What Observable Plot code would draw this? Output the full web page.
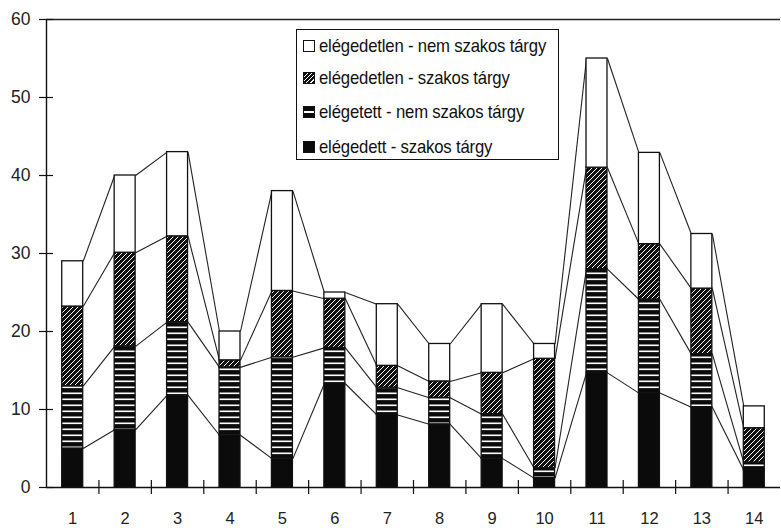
<!DOCTYPE html>
<html>
<head>
<meta charset="utf-8">
<script src="https://cdn.jsdelivr.net/npm/d3@7"></script>
<script src="https://cdn.jsdelivr.net/npm/@observablehq/plot@0.6"></script>
<style>
  html, body { margin: 0; padding: 0; background: #fff; }
  #wrap { position: relative; width: 781px; height: 528px; }
  #legend {
    position: absolute; left: 296px; top: 29px; width: 263px; height: 131px;
    border: 1.2px solid #111; background: #fff; box-sizing: border-box;
    font-family: "Liberation Sans", Arial, sans-serif;
    font-size: 19px; color: #111;
  }
  #legend .row { position: absolute; left: 6px; height: 22px; display: flex; align-items: center; white-space: nowrap; }
  #legend .sw { width: 12px; height: 12px; box-sizing: border-box; border: 1px solid #111; margin-right: 4px; flex: none; }
  #legend .lbl { display: inline-block; transform: scaleX(0.88); transform-origin: left center; letter-spacing: -0.2px; }
</style>
</head>
<body>
<div id="wrap"></div>
<script>
const categories = [1, 2, 3, 4, 5, 6, 7, 8, 9, 10, 11, 12, 13, 14];
const seriesNames = [
  "elégedett - szakos tárgy",
  "elégetett - nem szakos tárgy",
  "elégedetlen - szakos tárgy",
  "elégedetlen - nem szakos tárgy"
];
const elegedettSzakos     = [5.0, 7.4, 11.8, 6.7, 3.7, 13.3, 9.3, 8.1, 3.7, 1.2, 14.7, 12.1, 10.3, 2.2];
const elegedettNemSzakos  = [8.0, 10.7, 9.4, 8.7, 13.0, 4.6, 3.5, 3.4, 5.7, 1.3, 13.3, 12.0, 6.8, 1.0];
const elegedetlenSzakos   = [10.2, 12.0, 11.0, 0.9, 8.5, 6.3, 2.8, 2.1, 5.3, 14.0, 13.0, 7.1, 8.4, 4.4];
const elegedetlenNemSzakos= [5.8, 9.9, 10.8, 3.7, 12.8, 0.8, 7.9, 4.8, 8.8, 1.9, 14.0, 11.7, 7.0, 2.8];
const yTicks = [0, 10, 20, 30, 40, 50, 60];

const seriesValues = [elegedettSzakos, elegedettNemSzakos, elegedetlenSzakos, elegedetlenNemSzakos];
const fills = ["#0b0b0b", "url(#pStripe)", "url(#pHatch)", "#ffffff"];
const half = 0.2;

// stacked segments
const segments = [];
categories.forEach((c, i) => {
  let base = 0;
  seriesValues.forEach((vals, s) => {
    segments.push({cat: c, s, y1: base, y2: base + vals[i]});
    base += vals[i];
  });
});
// series lines
const links = [];
seriesValues.forEach((vals, s) => {
  for (let i = 0; i < categories.length - 1; i++) {
    const a = segments.find(d => d.cat === categories[i] && d.s === s);
    const b = segments.find(d => d.cat === categories[i + 1] && d.s === s);
    links.push({x1: a.cat + half, y1: a.y2, x2: b.cat - half, y2: b.y2});
  }
});
const between = categories.slice(0, -1).map(c => c + 0.5);

const marks = [
  Plot.link(links, {x1: "x1", y1: "y1", x2: "x2", y2: "y2", stroke: "#222", strokeWidth: 1.1}),
  ...seriesValues.map((_, s) => Plot.rect(segments.filter(d => d.s === s), {
    x1: d => d.cat - half, x2: d => d.cat + half, y1: "y1", y2: "y2",
    fill: fills[s], stroke: "#111", strokeWidth: 1.3
  })),
  Plot.ruleY([60], {stroke: "#222", strokeWidth: 1.4}),
  Plot.ruleY([0], {stroke: "#111", strokeWidth: 1.4}),
  Plot.ruleX([0.5], {stroke: "#111", strokeWidth: 1.4}),
  Plot.axisY({ticks: yTicks, tickSize: 14, dx: 7, tickFormat: () => "", stroke: "#111", strokeWidth: 1.2}),
  Plot.axisY({ticks: yTicks, tickSize: 0, tickPadding: 16, fontSize: 17.5, fill: "#222"}),
  Plot.axisX({ticks: between, tickSize: 14, dy: -7, tickFormat: () => "", stroke: "#111", strokeWidth: 1.2}),
  Plot.axisX({ticks: categories, tickSize: 0, tickPadding: 25, fontSize: 16.5, fill: "#222"})
];

const svg = Plot.plot({
  width: 781,
  height: 528,
  marginLeft: 46,
  marginRight: 1,
  marginTop: 19,
  marginBottom: 41,
  style: {fontFamily: "'Liberation Sans', Arial, sans-serif", background: "#fff", color: "#111", overflow: "visible"},
  x: {type: "linear", domain: [0.5, 14.5], axis: null},
  y: {domain: [0, 60], axis: null},
  marks
});

svg.insertAdjacentHTML("afterbegin", `
<defs>
  <pattern id="pStripe" patternUnits="userSpaceOnUse" width="8" height="6">
    <rect width="8" height="6" fill="#0b0b0b"/>
    <rect y="2.5" width="8" height="1.6" fill="#fff"/>
  </pattern>
  <pattern id="pHatch" patternUnits="userSpaceOnUse" width="5" height="5">
    <rect width="5" height="5" fill="#111"/>
    <path d="M-1,6 L6,-1 M-1,1 L1,-1 M4,6 L6,4" stroke="#fff" stroke-width="1"/>
  </pattern>
</defs>`);

const wrap = document.getElementById("wrap");
wrap.appendChild(svg);

// legend (top-to-bottom order as in the reference)
const legend = document.createElement("div");
legend.id = "legend";
const legendOrder = [3, 2, 1, 0];
const swatchStyle = [
  "background:#0b0b0b",
  "background:linear-gradient(#0b0b0b 0 40%, #fff 40% 60%, #0b0b0b 60%)",
  "background:repeating-linear-gradient(-45deg, #111 0 2px, #fff 2px 3px)",
  "background:#fff"
];
const rowTops = [5, 37, 71, 106];
legendOrder.forEach((s, k) => {
  const row = document.createElement("div");
  row.className = "row";
  row.style.top = rowTops[k] + "px";
  const sw = document.createElement("span");
  sw.className = "sw";
  sw.setAttribute("style", swatchStyle[s]);
  row.appendChild(sw);
  const t = document.createElement("span");
  t.className = "lbl";
  t.textContent = seriesNames[s];
  row.appendChild(t);
  legend.appendChild(row);
});
wrap.appendChild(legend);
</script>
</body>
</html>
